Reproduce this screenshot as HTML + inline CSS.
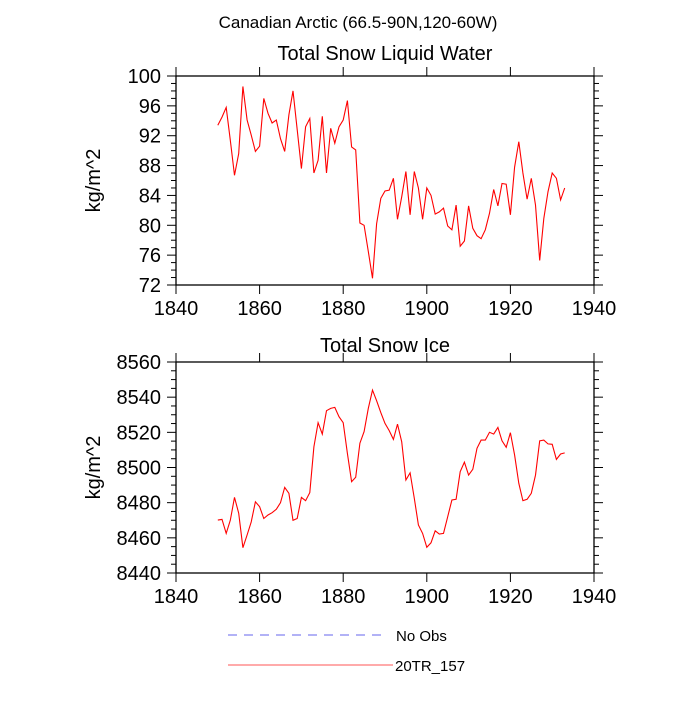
<!DOCTYPE html>
<html><head><meta charset="utf-8"><style>
body{margin:0;background:#fff}
svg text{font-family:"Liberation Sans",sans-serif;fill:#000}
</style></head><body>
<svg id="c" width="700" height="700" viewBox="0 0 700 700"></svg>
<script>
const years=[];for(let y=1850;y<=1933;y++)years.push(y);
const liquid=[93.4,94.5,95.8,91.4,86.7,89.6,98.6,94.1,92.1,89.9,90.6,97.0,95.0,93.7,94.1,91.6,89.9,94.8,98.0,92.8,87.6,93.2,94.3,87.0,88.7,94.6,87.0,93.0,91.0,93.2,94.1,96.7,90.5,90.1,80.3,80.0,76.5,72.9,80.2,83.6,84.6,84.7,86.3,80.8,83.8,87.2,81.4,87.2,85.0,80.8,85.0,84.0,81.5,81.8,82.3,79.9,79.4,82.7,77.2,77.9,82.6,79.6,78.6,78.2,79.4,81.6,84.8,82.6,85.6,85.5,81.4,87.8,91.2,87.0,83.5,86.3,82.7,75.3,80.9,84.5,87.0,86.3,83.4,85.0];
const ice=[8470.1,8470.5,8462.5,8470,8483,8474,8454.4,8461.6,8469,8480.5,8477.7,8471,8473,8474.3,8476.2,8480,8488.7,8485.3,8470,8471,8483,8481.1,8485.7,8511.8,8525.5,8519,8532.3,8533.6,8534.2,8528.9,8525.5,8508,8491.9,8494.4,8513.8,8520.4,8533.6,8544,8538,8531.2,8525.1,8521,8516,8524.7,8514.7,8492.9,8497,8482.5,8467.3,8462.5,8454.6,8457.2,8464,8462.2,8462.5,8472,8481.5,8481.9,8497.6,8503,8495.7,8499,8510.9,8515.6,8515.6,8520,8519,8522.8,8515.2,8511.5,8519.8,8507.1,8491,8481.1,8481.9,8485.3,8495.7,8515.2,8515.6,8513.4,8513.2,8504.6,8507.7,8508.3];
const xTicks=[1840,1860,1880,1900,1920,1940];
const liquidTicks=[72,76,80,84,88,92,96,100];
const iceTicks=[8440,8460,8480,8500,8520,8540,8560];

const svg=document.getElementById('c');const NS='http://www.w3.org/2000/svg';
function mk(tag,attrs,parent){const e=document.createElementNS(NS,tag);for(const k in attrs)e.setAttribute(k,attrs[k]);(parent||svg).appendChild(e);return e;}
const X0=176,X1=594;
function xs(v){return X0+(v-1840)/(1940-1840)*(X1-X0);}
function panel(name,top,bot,ymin,ymax,ticks,minorStep,data,title,titleY){
  const g=mk('g',{});
  
  
  const ys=v=>bot-(v-ymin)/(ymax-ymin)*(bot-top);
  const box=mk('rect',{x:X0,y:top,width:X1-X0,height:bot-top,fill:'none',stroke:'#000','stroke-width':1.3},g);
  
  
  for(let v=ymin;v<=ymax+1e-9;v+=minorStep){
    const y=ys(v);const major=ticks.some(t=>Math.abs(t-v)<1e-6);const L=major?9:5;
    mk('line',{x1:X0-L,x2:X0,y1:y,y2:y,stroke:'#000','stroke-width':1},g);
    mk('line',{x1:X1,x2:X1+L,y1:y,y2:y,stroke:'#000','stroke-width':1},g);
  }
  ticks.forEach(t=>{const tx=mk('text',{x:X0-15,y:ys(t)+7,'text-anchor':'end','font-size':20},g);tx.textContent=t;
    
    });
  xTicks.forEach(t=>{const x=xs(t);
    mk('line',{x1:x,x2:x,y1:bot,y2:bot+9,stroke:'#000','stroke-width':1},g);
    mk('line',{x1:x,x2:x,y1:top-9,y2:top,stroke:'#000','stroke-width':1},g);
    const tx=mk('text',{x:x,y:bot+30,'text-anchor':'middle','font-size':20},g);tx.textContent=t;
    
    });
  const pts=data.map((v,i)=>xs(years[i]).toFixed(1)+','+ys(v).toFixed(1)).join(' ');
  const line=mk('polyline',{points:pts,fill:'none',stroke:'#ff0000','stroke-width':1.1},g);
  
  
  const tt=mk('text',{x:385,y:titleY,'text-anchor':'middle','font-size':20},g);tt.textContent=title;
  
  
  const yt=mk('text',{x:0,y:0,'text-anchor':'middle','font-size':20,transform:`translate(100,${(top+bot)/2}) rotate(-90)`},g);yt.textContent='kg/m^2';
  
  
}
panel('liquid-water-panel',76,285,72,100,liquidTicks,1,liquid,'Total Snow Liquid Water',60);
panel('snow-ice-panel',362,573,8440,8560,iceTicks,5,ice,'Total Snow Ice',352);
const mt=mk('text',{x:358,y:28,'text-anchor':'middle','font-size':17});mt.textContent='Canadian Arctic (66.5-90N,120-60W)';


const l1=mk('line',{x1:228,x2:385,y1:635,y2:635,stroke:'#6666ee','stroke-width':1,'stroke-dasharray':'9,7'});


const t1=mk('text',{x:396,y:641,'font-size':15});t1.textContent='No Obs';


const l2=mk('line',{x1:228,x2:393,y1:665,y2:665,stroke:'#ff5555','stroke-width':1});


const t2=mk('text',{x:395,y:671,'font-size':15});t2.textContent='20TR_157';


</script>
</body></html>
